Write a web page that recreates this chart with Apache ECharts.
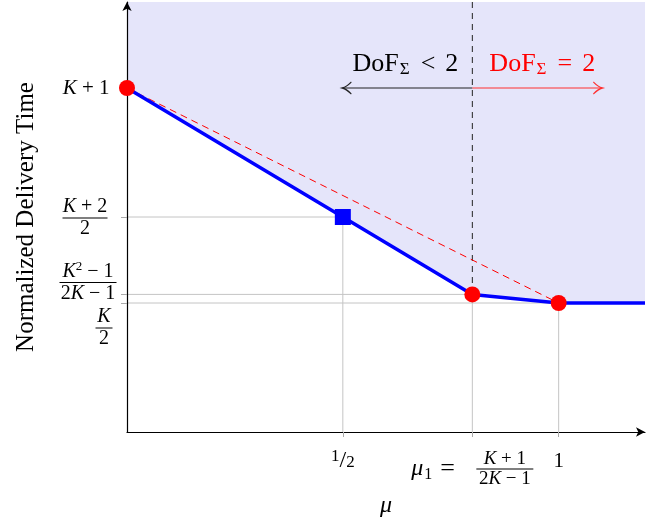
<!DOCTYPE html>
<html>
<head>
<meta charset="utf-8">
<script src="https://cdn.jsdelivr.net/npm/echarts@6/dist/echarts.min.js"></script>
<style>
  html, body { margin: 0; padding: 0; background: #ffffff; }
  #chart { width: 662px; height: 522px; }
</style>
</head>
<body>
<div id="chart"></div>
<script>
// Optimal normalized delivery time versus cache fraction mu (drawn for K = 3)
const curveMu  = [0, 0.5, 0.8, 1, 1.2];
const curveNdt = [4, 2.5, 1.6, 1.5, 1.5];

// Corner points (red dots)
const cornerMu  = [0, 0.8, 1];
const cornerNdt = [4, 1.6, 1.5];

// Point at mu = 1/2 (blue square)
const halfMu  = [0.5];
const halfNdt = [2.5];

// Straight chord between the two end corners (red dashed)
const chordMu  = [0, 1];
const chordNdt = [4, 1.5];

// Grey guides running from the axes to the marked points
const guideMu  = [0.5, 0.8, 1];
const guideNdt = [2.5, 1.6, 1.5];

// DoF regime boundary and its arrows
const boundaryMu    = 0.8;
const axisTopNdt    = 5;
const arrowNdt      = 4;
const arrowLeftEnd  = 0.5;
const arrowRightEnd = 1.1;
const dofLabelMu    = [0.645, 0.962];
const dofRelations  = ['<', '='];
const dofValue      = '2';

// Axis ranges and ticks
const muMax  = 1.2;
const ndtMax = 5;
const yTickValues = [4, 2.5, 1.6, 1.5];
const xTickValues = [0.5, 0.8, 1];

const SERIF = 'Liberation Serif';
const BLACK = '#000000';
const RED   = '#ff0000';
const BLUE  = '#0000ff';
const GREY  = '#c4c4c4';
const SHADE = '#e5e5fa';

// --- rich-text pieces for the math-style tick labels ---
const mathRich = {
  ki:   { fontFamily: SERIF, fontStyle: 'italic', fontSize: 20, color: BLACK, align: 'center', lineHeight: 18 },
  n:    { fontFamily: SERIF, fontSize: 20, color: BLACK, align: 'center', lineHeight: 18 },
  bki:  { fontFamily: SERIF, fontStyle: 'italic', fontSize: 21, color: BLACK, lineHeight: 22 },
  bn:   { fontFamily: SERIF, fontSize: 21, color: BLACK, lineHeight: 22 },
  sup:  { fontFamily: SERIF, fontSize: 13, color: BLACK, align: 'center', lineHeight: 18, padding: [0, 0, 10, 0] },
  barA: { width: 45, height: 1, backgroundColor: BLACK, lineHeight: 4 },
  barB: { width: 57, height: 1, backgroundColor: BLACK, lineHeight: 4 },
  barC: { width: 17, height: 1, backgroundColor: BLACK, lineHeight: 4 },
  // x labels
  one:  { fontFamily: SERIF, fontSize: 21, color: BLACK, lineHeight: 20 },
  hn:   { fontFamily: SERIF, fontSize: 17, color: BLACK, lineHeight: 20, padding: [0, 0, 8, 0] },
  sl:   { fontFamily: SERIF, fontSize: 24, color: BLACK, lineHeight: 20 },
  hd:   { fontFamily: SERIF, fontSize: 17, color: BLACK, lineHeight: 20, padding: [4, 0, 0, 0] },
  gap:  { width: 65, height: 1, align: 'left', lineHeight: 16 },
  xki:  { fontFamily: SERIF, fontStyle: 'italic', fontSize: 19, color: BLACK, align: 'center', lineHeight: 16 },
  xn:   { fontFamily: SERIF, fontSize: 19, color: BLACK, align: 'center', lineHeight: 16 },
  mu:   { fontFamily: SERIF, fontStyle: 'italic', fontSize: 24, color: BLACK, align: 'left', width: 13, lineHeight: 4 },
  mus:  { fontFamily: SERIF, fontSize: 16, color: BLACK, align: 'left', width: 16, lineHeight: 4, verticalAlign: 'top' },
  eq:   { fontFamily: SERIF, fontSize: 26, color: BLACK, align: 'left', width: 36, lineHeight: 4 }
};

const yTickRich = {
  4:   '{bki|K}{bn| + 1}',
  2.5: '{ki|K}{n| + 2}\n{barA|}\n{n|2}',
  1.6: '{ki|K}{sup|2}{n| − 1}\n{barB|}\n{n|2}{ki|K}{n| − 1}',
  1.5: '{ki|K}\n{barC|}\n{n|2}'
};
// label placement next to the y axis: [distance, vertical shift]
const yLabelPlacement = {
  4:   [17, 0],
  2.5: [19, 1],
  1.6: [10, -12],
  1.5: [14, 25]
};

const xTickRich = {
  0.5: '{hn|1}{sl|/}{hd|2}',
  0.8: '{gap|}{xki|K}{xn| + 1}\n{mu|μ}{mus|1}{eq|=}{barB|}\n{gap|}{xn|2}{xki|K}{xn| − 1}',
  1:   '{one|1}'
};

const zip = (xs, ys) => xs.map((x, i) => [x, ys[i]]);

const chevronRight = 'path://M0,0 Q5,5 9,6 Q5,7 0,12';
const chevronLeft  = 'path://M9,0 Q4,5 0,6 Q4,7 9,12';

function arrowSeries(endMu, color, path, offset) {
  return {
    type: 'line', z: 5, silent: true, animation: false,
    lineStyle: { color: color, width: 1.2 },
    itemStyle: { color: 'rgba(0,0,0,0)', borderColor: color, borderWidth: 1.2, opacity: 1 },
    showSymbol: true, showAllSymbol: true,
    data: [
      { value: [boundaryMu, arrowNdt], symbol: 'none' },
      { value: [endMu, arrowNdt], symbol: path, symbolSize: [9, 12], symbolOffset: offset }
    ]
  };
}

const series = [];

// shaded achievable region above the curve
series.push({
  type: 'line', z: 1, silent: true, animation: false,
  data: zip(curveMu, curveNdt),
  symbol: 'none',
  lineStyle: { width: 0 },
  areaStyle: { origin: 'end', color: SHADE, opacity: 1 }
});

// grey guides from the axes to each marked point
guideMu.forEach((m, i) => {
  series.push({
    type: 'line', z: 2, silent: true, animation: false, symbol: 'none',
    lineStyle: { color: GREY, width: 1 },
    data: [[0, guideNdt[i]], [m, guideNdt[i]], [m, 0]]
  });
});

// dashed boundary between the two DoF regimes
series.push({
  type: 'line', z: 4, silent: true, animation: false, symbol: 'none',
  lineStyle: { color: '#222222', width: 1, type: [6, 5] },
  data: [[boundaryMu, axisTopNdt], [boundaryMu, curveNdt[2]]]
});

// red dashed chord
series.push({
  type: 'line', z: 4, silent: true, animation: false, symbol: 'none',
  lineStyle: { color: RED, width: 1, type: [7, 5] },
  data: zip(chordMu, chordNdt)
});

// regime arrows
series.push(arrowSeries(arrowLeftEnd, '#222222', chevronLeft, [4, 0]));
series.push(arrowSeries(arrowRightEnd, '#ff3030', chevronRight, [-4, 0]));

// optimal delivery time curve
series.push({
  type: 'line', z: 6, silent: true, animation: false, symbol: 'none',
  lineStyle: { color: BLUE, width: 3.5 },
  data: zip(curveMu, curveNdt)
});

// blue square at mu = 1/2
series.push({
  type: 'scatter', z: 7, silent: true, animation: false,
  symbol: 'rect', symbolSize: 16,
  itemStyle: { color: BLUE, opacity: 1 },
  data: zip(halfMu, halfNdt)
});

// red corner points
series.push({
  type: 'scatter', z: 7, silent: true, animation: false,
  symbol: 'circle', symbolSize: 16,
  itemStyle: { color: RED, opacity: 1 },
  data: zip(cornerMu, cornerNdt)
});

// y tick labels written as math
series.push({
  type: 'scatter', z: 8, silent: true, animation: false,
  symbolSize: 1,
  itemStyle: { color: 'rgba(0,0,0,0)', opacity: 1 },
  data: yTickValues.map(v => ({
    value: [0, v],
    label: {
      show: true,
      position: 'left',
      distance: yLabelPlacement[v][0],
      offset: [0, yLabelPlacement[v][1]],
      formatter: yTickRich[v],
      rich: mathRich
    }
  }))
});

// DoF regime labels above the arrows
series.push({
  type: 'scatter', z: 8, silent: true, animation: false,
  symbolSize: 1,
  itemStyle: { color: 'rgba(0,0,0,0)', opacity: 1 },
  data: dofLabelMu.map((m, i) => {
    const c = i === 0 ? BLACK : RED;
    return {
      value: [m, arrowNdt],
      label: {
        show: true,
        position: 'top',
        distance: 9,
        formatter: '{d|DoF}{s|Σ}{r|' + dofRelations[i] + '}{d|' + dofValue + '}',
        rich: {
          d: { fontFamily: SERIF, fontSize: 26, color: c, lineHeight: 28 },
          r: { fontFamily: SERIF, fontSize: 26, color: c, lineHeight: 28, padding: [0, 10, 0, 10] },
          s: { fontFamily: SERIF, fontSize: 17, color: c, lineHeight: 28, padding: [10, 1, 0, 1] }
        }
      }
    };
  })
});

const chart = echarts.init(document.getElementById('chart'), null, { renderer: 'canvas' });
chart.setOption({
  animation: false,
  backgroundColor: '#ffffff',
  grid: { left: 127, right: 17, top: 2, bottom: 90, containLabel: false, outerBoundsMode: 'none' },
  xAxis: {
    type: 'value', min: 0, max: muMax, z: 3,
    name: 'μ',
    nameLocation: 'middle',
    nameGap: 58,
    nameTextStyle: { fontFamily: SERIF, fontStyle: 'italic', fontSize: 24, color: BLACK },
    axisLine: { show: true, onZero: false, symbol: ['none', 'arrow'], symbolSize: [7, 9],
                lineStyle: { color: BLACK, width: 1.2 } },
    axisTick: { show: true, customValues: xTickValues, length: 5, lineStyle: { color: '#aaaaaa', width: 1 } },
    axisLabel: {
      show: true, customValues: xTickValues, margin: 19, verticalAlign: 'top',
      formatter: v => xTickRich[v], rich: mathRich
    },
    splitLine: { show: false }
  },
  yAxis: {
    type: 'value', min: 0, max: ndtMax, z: 3,
    name: 'Normalized Delivery Time',
    nameLocation: 'middle',
    nameGap: 88,
    nameTextStyle: { fontFamily: SERIF, fontSize: 25, color: BLACK },
    axisLine: { show: true, onZero: false, symbol: ['none', 'arrow'], symbolSize: [7, 9],
                lineStyle: { color: BLACK, width: 1.2 } },
    axisTick: { show: true, customValues: [2.5, 1.6, 1.5], length: 6, lineStyle: { color: '#aaaaaa', width: 1 } },
    axisLabel: { show: false },
    splitLine: { show: false }
  },
  series: series
});
</script>
</body>
</html>
